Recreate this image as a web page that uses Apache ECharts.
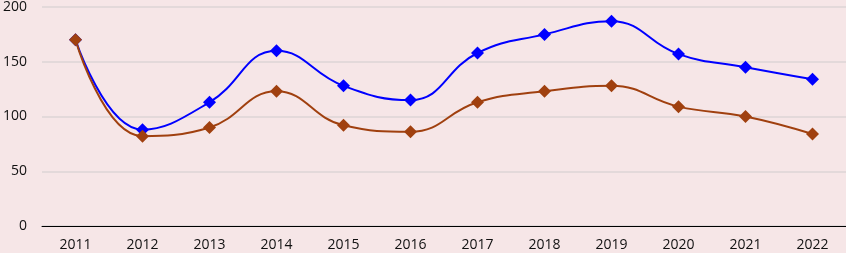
<!DOCTYPE html>
<html>
<head>
<meta charset="utf-8">
<script src="https://cdn.jsdelivr.net/npm/echarts@6/dist/echarts.min.js"></script>
<style>
html,body{margin:0;padding:0;background:#f6e6e7;}
#main{width:846px;height:253px;}
</style>
</head>
<body>
<div id="main"></div>
<script>
var years = ['2011','2012','2013','2014','2015','2016','2017','2018','2019','2020','2021','2022'];
var blueVals = [170, 88, 113, 160, 128, 115, 158, 175, 187, 157, 145, 134];
var brownVals = [170, 82, 90, 123, 92, 86, 113, 123, 128, 109, 100, 84];

var chart = echarts.init(document.getElementById('main'));
var font = 'Open Sans';
chart.setOption({
    backgroundColor: '#f6e6e7',
    animation: false,
    grid: {left: 40, right: 0, top: 5, bottom: 27},
    xAxis: {
        type: 'category',
        data: years,
        boundaryGap: true,
        axisLine: {lineStyle: {color: '#000', width: 1}},
        axisTick: {show: false},
        axisLabel: {color: '#111', fontSize: 14, fontFamily: font, margin: 12}
    },
    yAxis: {
        type: 'value',
        min: 0, max: 200, interval: 50,
        axisLine: {show: false},
        axisTick: {show: false},
        splitLine: {lineStyle: {color: '#e3d9da', width: 2}},
        axisLabel: {color: '#111', fontSize: 14, fontFamily: font, margin: 15}
    },
    series: [
        {
            type: 'line', data: blueVals, smooth: 0.45,
            symbol: 'diamond', symbolSize: 13,
            lineStyle: {color: '#0000ff', width: 2},
            itemStyle: {color: '#0000ff'}
        },
        {
            type: 'line', data: brownVals, smooth: 0.45,
            symbol: 'diamond', symbolSize: 13,
            lineStyle: {color: '#a0400f', width: 2},
            itemStyle: {color: '#a0400f'}
        }
    ]
});
</script>
</body>
</html>
